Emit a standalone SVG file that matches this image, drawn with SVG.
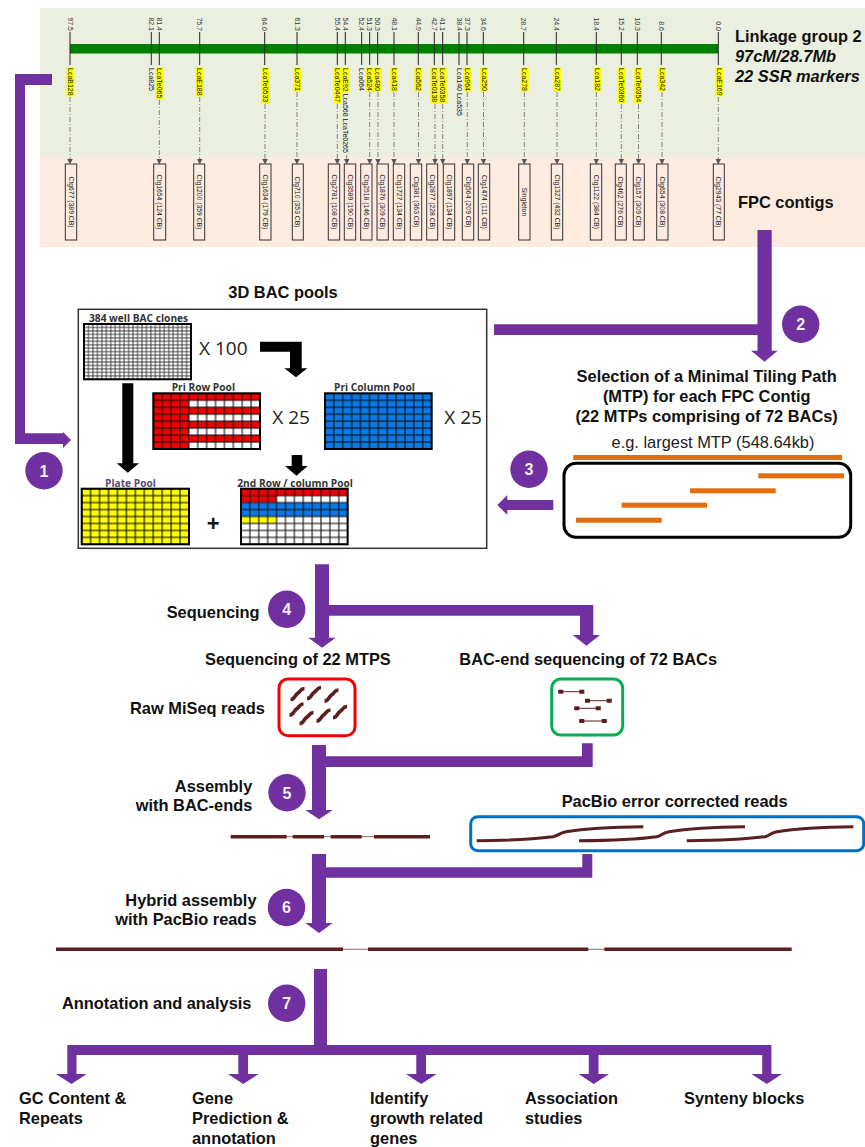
<svg xmlns="http://www.w3.org/2000/svg" width="865" height="1147" viewBox="0 0 865 1147">
<style>
text{font-family:"Liberation Sans",Arial,sans-serif;fill:#111}
.b{font-weight:700;font-size:16.4px}
.bi{font-weight:700;font-style:italic;font-size:16.4px}
.r{font-size:16.4px;fill:#222}
.e{text-anchor:end}
.m{text-anchor:middle}
.num{font-size:7px;fill:#333;text-anchor:end}
.mk{font-size:7px;fill:#111}
.ct{font-size:6.8px;fill:#222;text-anchor:middle}
.hl{fill:#ffff00}
.tick{stroke:#222;stroke-width:1}
.dash{stroke:#666;stroke-width:.8;stroke-dasharray:5 2 1 2;fill:none;marker-end:url(#tip)}
.box{fill:#fdebdf;stroke:#333;stroke-width:1}
.pu{fill:#7030a0}
.circle{fill:#7030a0}
.dg{font-weight:700;font-size:16px;fill:#f4eef8;text-anchor:middle}
.ar{fill:#000}
.frame{fill:none;stroke:#000;stroke-width:2}
.gl{font-weight:700;font-size:10.2px;fill:#333;font-family:"Open Sans","Liberation Sans",sans-serif}
.xl{font-size:19px;fill:#222;font-family:"Open Sans","Liberation Sans",sans-serif}
.or{fill:#e46c0a}
.rd{fill:none;stroke:#5c1f1f;stroke-width:3}
.rs{fill:none;stroke:#5c1f1f;stroke-width:3.6}
.rd2{fill:none;stroke:#5c1f1f;stroke-width:1}
.sq{fill:#5c1f1f}
.thin{stroke:#8a6a6a;stroke-width:1}
.red{fill:#f00000}.blu{fill:#0a78e6}.yel{fill:#ffff00}
</style>
<defs>
<marker id="tip" markerUnits="userSpaceOnUse" markerWidth="6" markerHeight="6" refX="5.5" refY="3" orient="auto"><path d="M0 0L6 3L0 6Z" fill="#555"/></marker>
<pattern id="g24" width=".0416667" height=".0625"><rect width="4.458" height="3.456" fill="none" stroke="#333" stroke-width=".9"/></pattern>
<pattern id="g12" width=".0833333" height=".125"><rect width="8.89" height="6.96" fill="none" stroke="#111" stroke-width="1.1"/></pattern>
<path id="sq" d="M-7 6C-3 6-3 2 0 0S3-5 7-5" class="rs"/>
</defs>

<g id="linkage-panel">
<rect x="40" y="8" width="825" height="149" fill="#ebefdf"/>
<rect x="40" y="157" width="825" height="90" fill="#fdebdf"/>
<rect x="70" y="44" width="648" height="9.5" fill="#008000"/>
<g id="ticks">
<path class="tick" d="M70 32V65M151.3 32V65M159.3 32V65M199.7 32V65M264.7 32V65M297 32V65M337.3 32V65M345.3 32V65M361.7 32V65M369.7 32V65M377.7 32V65M394 32V65M418.3 32V65M434.3 32V65M442.7 32V65M459 32V65M467 32V65M483.3 32V65M523.7 32V65M556.3 32V65M596.3 32V65M621.3 32V65M637.3 32V65M661.3 32V65M718.3 32V65"/>
</g>
<g id="positions">
<text class="num" transform="translate(67.5 31) rotate(90)">97.5</text>
<text class="num" transform="translate(148.8 31) rotate(90)">82.1</text>
<text class="num" transform="translate(156.8 31) rotate(90)">81.4</text>
<text class="num" transform="translate(197.2 31) rotate(90)">75.7</text>
<text class="num" transform="translate(262.2 31) rotate(90)">64.0</text>
<text class="num" transform="translate(294.5 31) rotate(90)">61.3</text>
<text class="num" transform="translate(334.8 31) rotate(90)">55.4</text>
<text class="num" transform="translate(342.8 31) rotate(90)">54.4</text>
<text class="num" transform="translate(359.2 31) rotate(90)">52.4</text>
<text class="num" transform="translate(367.2 31) rotate(90)">51.3</text>
<text class="num" transform="translate(375.2 31) rotate(90)">50.3</text>
<text class="num" transform="translate(391.5 31) rotate(90)">48.1</text>
<text class="num" transform="translate(415.8 31) rotate(90)">44.9</text>
<text class="num" transform="translate(431.8 31) rotate(90)">42.7</text>
<text class="num" transform="translate(440.2 31) rotate(90)">41.1</text>
<text class="num" transform="translate(456.5 31) rotate(90)">38.4</text>
<text class="num" transform="translate(464.5 31) rotate(90)">37.3</text>
<text class="num" transform="translate(480.8 31) rotate(90)">34.6</text>
<text class="num" transform="translate(521.2 31) rotate(90)">28.7</text>
<text class="num" transform="translate(553.8 31) rotate(90)">24.4</text>
<text class="num" transform="translate(593.8 31) rotate(90)">18.4</text>
<text class="num" transform="translate(618.8 31) rotate(90)">15.2</text>
<text class="num" transform="translate(634.8 31) rotate(90)">10.3</text>
<text class="num" transform="translate(658.8 31) rotate(90)">8.6</text>
<text class="num" transform="translate(715.8 31) rotate(90)">0.0</text>
</g>
<g id="marker-highlights">
<rect class="hl" x="66.5" y="67.5" width="8" height="29"/>
<rect class="hl" x="155.3" y="67.5" width="8" height="32"/>
<rect class="hl" x="195.7" y="67.5" width="8" height="29"/>
<rect class="hl" x="261" y="67.5" width="8" height="36"/>
<rect class="hl" x="293.3" y="67.5" width="8" height="24"/>
<rect class="hl" x="333.3" y="67.5" width="8" height="36"/>
<rect class="hl" x="341.3" y="67.5" width="8" height="25"/>
<rect class="hl" x="365.7" y="67.5" width="8" height="24"/>
<rect class="hl" x="373.7" y="67.5" width="8" height="24"/>
<rect class="hl" x="390" y="67.5" width="8" height="24"/>
<rect class="hl" x="414.3" y="67.5" width="8" height="24"/>
<rect class="hl" x="430.3" y="67.5" width="8" height="36"/>
<rect class="hl" x="438.7" y="67.5" width="8" height="36"/>
<rect class="hl" x="463" y="67.5" width="8" height="24"/>
<rect class="hl" x="480" y="67.5" width="8" height="24"/>
<rect class="hl" x="520.7" y="67.5" width="8" height="24"/>
<rect class="hl" x="553" y="67.5" width="8" height="24"/>
<rect class="hl" x="593.3" y="67.5" width="8" height="24"/>
<rect class="hl" x="617.7" y="67.5" width="8" height="36"/>
<rect class="hl" x="634" y="67.5" width="8" height="36"/>
<rect class="hl" x="658" y="67.5" width="8" height="24"/>
<rect class="hl" x="715" y="67.5" width="8" height="29"/>
</g>
<g id="marker-labels">
<text class="mk" transform="translate(68 68) rotate(90)">LcaB128</text>
<text class="mk" transform="translate(148.8 68) rotate(90)">Lca825</text>
<text class="mk" transform="translate(156.8 68) rotate(90)">LcaTe065</text>
<text class="mk" transform="translate(197.2 68) rotate(90)">LcaE188</text>
<text class="mk" transform="translate(262.5 68) rotate(90)">LcaTe0533</text>
<text class="mk" transform="translate(294.8 68) rotate(90)">Lca371</text>
<text class="mk" transform="translate(334.8 68) rotate(90)">LcaTe0447</text>
<text class="mk" transform="translate(342.8 68) rotate(90)">LcaE92 Lca568 LcaTe0265</text>
<text class="mk" transform="translate(359.2 68) rotate(90)">Lca064</text>
<text class="mk" transform="translate(367.2 68) rotate(90)">Lca524</text>
<text class="mk" transform="translate(375.2 68) rotate(90)">Lca480</text>
<text class="mk" transform="translate(391.5 68) rotate(90)">Lca418</text>
<text class="mk" transform="translate(415.8 68) rotate(90)">Lca562</text>
<text class="mk" transform="translate(431.8 68) rotate(90)">LcaTe0138</text>
<text class="mk" transform="translate(440.2 68) rotate(90)">LcaTe0358</text>
<text class="mk" transform="translate(456.5 68) rotate(90)">Lca140 Lca535</text>
<text class="mk" transform="translate(464.5 68) rotate(90)">Lca964</text>
<text class="mk" transform="translate(481.5 68) rotate(90)">Lca250</text>
<text class="mk" transform="translate(522.2 68) rotate(90)">Lca278</text>
<text class="mk" transform="translate(554.5 68) rotate(90)">Lca287</text>
<text class="mk" transform="translate(594.8 68) rotate(90)">Lca182</text>
<text class="mk" transform="translate(619.2 68) rotate(90)">LcaTe0360</text>
<text class="mk" transform="translate(635.5 68) rotate(90)">LcaTe0354</text>
<text class="mk" transform="translate(659.5 68) rotate(90)">Lca342</text>
<text class="mk" transform="translate(716.5 68) rotate(90)">LcaE169</text>
</g>
<text id="lg1" class="b" x="735" y="41.5">Linkage group 2</text>
<text id="lg2" class="bi" x="735" y="61.5">97cM/28.7Mb</text>
<text id="lg3" class="bi" x="735" y="81.5">22 SSR markers</text>
<text id="fpc" class="b" x="738" y="207.7">FPC contigs</text>
</g>

<g id="contigs">
<g id="c1"><rect class="box" x="65.3" y="164" width="11.4" height="76"/><text class="ct" transform="translate(68.6 202) rotate(90)">Ctg677 (389 CB)</text></g>
<g id="c2"><rect class="box" x="153.7" y="164" width="12" height="76"/><text class="ct" transform="translate(157.3 202) rotate(90)">Ctg1654 (124 CB)</text></g>
<g id="c3"><rect class="box" x="193.7" y="164" width="11" height="76"/><text class="ct" transform="translate(196.8 202) rotate(90)">Ctg1200 (359 CB)</text></g>
<g id="c4"><rect class="box" x="259.7" y="164" width="11.3" height="76"/><text class="ct" transform="translate(263 202) rotate(90)">Ctg1634 (179 CB)</text></g>
<g id="c5"><rect class="box" x="292.3" y="164" width="11" height="76"/><text class="ct" transform="translate(295.4 202) rotate(90)">Ctg710 (353 CB)</text></g>
<g id="c6"><rect class="box" x="328.3" y="164" width="11.4" height="76"/><text class="ct" transform="translate(331.6 202) rotate(90)">Ctg2781 (108 CB)</text></g>
<g id="c7"><rect class="box" x="344.3" y="164" width="11.4" height="76"/><text class="ct" transform="translate(347.6 202) rotate(90)">Ctg3589 (190 CB)</text></g>
<g id="c8"><rect class="box" x="360.7" y="164" width="11.3" height="76"/><text class="ct" transform="translate(364 202) rotate(90)">Ctg2518 (146 CB)</text></g>
<g id="c9"><rect class="box" x="377" y="164" width="11.3" height="76"/><text class="ct" transform="translate(380.3 202) rotate(90)">Ctg1876 (309 CB)</text></g>
<g id="c10"><rect class="box" x="393.3" y="164" width="11.4" height="76"/><text class="ct" transform="translate(396.6 202) rotate(90)">Ctg1727 (134 CB)</text></g>
<g id="c11"><rect class="box" x="410.3" y="164" width="11.4" height="76"/><text class="ct" transform="translate(413.6 202) rotate(90)">Ctg381 (363 CB)</text></g>
<g id="c12"><rect class="box" x="426.7" y="164" width="11" height="76"/><text class="ct" transform="translate(429.8 202) rotate(90)">Ctg2877 (228 CB)</text></g>
<g id="c13"><rect class="box" x="443.3" y="164" width="11.4" height="76"/><text class="ct" transform="translate(446.6 202) rotate(90)">Ctg1897 (134 CB)</text></g>
<g id="c14"><rect class="box" x="462.3" y="164" width="11.4" height="76"/><text class="ct" transform="translate(465.6 202) rotate(90)">Ctg564 (209 CB)</text></g>
<g id="c15"><rect class="box" x="478.3" y="164" width="11.4" height="76"/><text class="ct" transform="translate(481.6 202) rotate(90)">Ctg1474 (111 CB)</text></g>
<g id="c16"><rect class="box" x="518.7" y="164" width="11.3" height="76"/><text class="ct" transform="translate(522 202) rotate(90)">Singleton</text></g>
<g id="c17"><rect class="box" x="551.3" y="164" width="11.4" height="76"/><text class="ct" transform="translate(554.6 202) rotate(90)">Ctg1327 (432 CB)</text></g>
<g id="c18"><rect class="box" x="590.3" y="164" width="11.4" height="76"/><text class="ct" transform="translate(593.6 202) rotate(90)">Ctg1122 (384 CB)</text></g>
<g id="c19"><rect class="box" x="615.3" y="164" width="11" height="76"/><text class="ct" transform="translate(618.4 202) rotate(90)">Ctg462 (276 CB)</text></g>
<g id="c20"><rect class="box" x="633.3" y="164" width="11" height="76"/><text class="ct" transform="translate(636.4 202) rotate(90)">Ctg157 (309 CB)</text></g>
<g id="c21"><rect class="box" x="656.7" y="164" width="11.3" height="76"/><text class="ct" transform="translate(660 202) rotate(90)">Ctg654 (308 CB)</text></g>
<g id="c22"><rect class="box" x="713.3" y="164" width="11" height="76"/><text class="ct" transform="translate(716.4 202) rotate(90)">Ctg2943 (77 CB)</text></g>
</g>

<g id="bac-pools">
<text id="bac-title" class="b m" x="283" y="298">3D BAC pools</text>
<rect x="78.3" y="309.3" width="408.4" height="239" fill="#fff" stroke="#333" stroke-width="1.5"/>
<g id="plate384">
<text class="gl" x="89" y="321.7">384 well BAC clones</text>
<rect x="84" y="324" width="107" height="55.3" fill="#fff"/>
<rect x="84" y="324" width="107" height="55.3" fill="url(#g24)"/>
<rect class="frame" x="84" y="324" width="107" height="55.3"/>
</g>
<text class="xl" x="199" y="354.5">X 100</text>
<g id="row-pool">
<text class="gl" x="171.7" y="391">Pri Row  Pool</text>
<rect x="153.3" y="393.3" width="106.7" height="55.7" fill="#fff"/>
<rect class="red" x="153.3" y="393.3" width="35.6" height="55.7"/>
<rect class="red" x="153.3" y="393.3" width="106.7" height="7"/>
<rect class="red" x="153.3" y="407.2" width="106.7" height="7"/>
<rect class="red" x="153.3" y="421.1" width="106.7" height="7"/>
<rect class="red" x="153.3" y="435.1" width="106.7" height="7"/>
<rect x="153.3" y="393.3" width="106.7" height="55.7" fill="url(#g12)"/>
<rect class="frame" x="153.3" y="393.3" width="106.7" height="55.7"/>
</g>
<text class="xl" x="272.3" y="424">X 25</text>
<g id="column-pool">
<text class="gl" x="334" y="391">Pri Column  Pool</text>
<rect class="blu" x="325" y="393.3" width="106.7" height="55.7"/>
<rect x="325" y="393.3" width="106.7" height="55.7" fill="url(#g12)"/>
<rect class="frame" x="325" y="393.3" width="106.7" height="55.7"/>
</g>
<text class="xl" x="444.3" y="424">X 25</text>
<g id="plate-pool">
<text class="gl" x="105" y="486.7" style="fill:#5a4a7a">Plate Pool</text>
<rect class="yel" x="81.7" y="488.7" width="107.3" height="55.6"/>
<rect x="81.7" y="488.7" width="107.3" height="55.6" fill="url(#g12)"/>
<rect class="frame" x="81.7" y="488.7" width="107.3" height="55.6"/>
</g>
<text class="b m" x="213.3" y="531" style="font-size:22px">+</text>
<g id="second-pool">
<text class="gl" x="237.3" y="486.7">2nd Row  / column  Pool</text>
<rect x="241" y="488.7" width="106.7" height="55.6" fill="#fff"/>
<rect class="red" x="241" y="488.7" width="106.7" height="7"/>
<rect class="red" x="241" y="495.6" width="35.6" height="7"/>
<rect class="blu" x="241" y="502.6" width="106.7" height="13.9"/>
<rect class="yel" x="241" y="516.5" width="35.6" height="7"/>
<rect x="241" y="488.7" width="106.7" height="55.6" fill="url(#g12)"/>
<rect class="frame" x="241" y="488.7" width="106.7" height="55.6"/>
</g>
<path class="ar" d="M260 341.7H301.7V368.3H307.3L296 377.3L284.3 368.3H290V351.7H260Z"/>
<path class="ar" d="M122.3 383.3H133.3V463.3H139L127.8 472.7L116.7 463.3H122.3Z"/>
<path class="ar" d="M291.7 455H302.3V466H307.7L296.4 475.7L285 466H291.7Z"/>
</g>

<g id="mtp">
<text class="b m" x="706.7" y="381.7">Selection of a Minimal Tiling Path</text>
<text class="b m" x="706.7" y="401.7">(MTP) for each FPC Contig</text>
<text class="b m" x="706.7" y="421.7">(22 MTPs comprising of 72 BACs)</text>
<text class="r m" x="713" y="448">e.g. largest MTP (548.64kb)</text>
<rect class="or" x="573.3" y="455" width="268.7" height="5"/>
<rect x="564" y="463.3" width="286.7" height="74" rx="12" fill="#fff" stroke="#000" stroke-width="3"/>
<rect class="or" x="758.3" y="473.3" width="85.7" height="5"/>
<rect class="or" x="690" y="488.3" width="85.7" height="5"/>
<rect class="or" x="621.7" y="502.7" width="85.3" height="5"/>
<rect class="or" x="576" y="517.7" width="85.7" height="5"/>
</g>

<g id="sequencing">
<text class="b" x="166.7" y="617.7">Sequencing</text>
<text class="b" x="205" y="665">Sequencing of 22 MTPS</text>
<text class="b" x="459.3" y="665">BAC-end sequencing of 72 BACs</text>
<text class="b" x="130" y="714">Raw MiSeq reads</text>
<g id="miseq">
<rect x="279" y="679" width="76" height="56.7" rx="9" fill="#fff" stroke="#f00000" stroke-width="3"/>
<use href="#sq" x="297.5" y="693.5"/><use href="#sq" x="314" y="692.5"/><use href="#sq" x="331.5" y="695"/><use href="#sq" x="296.5" y="709"/><use href="#sq" x="306.5" y="717.5"/><use href="#sq" x="323.5" y="715"/><use href="#sq" x="340" y="711.5"/>
</g>
<g id="bac-ends">
<rect x="551.7" y="679" width="71" height="56" rx="9" fill="#fff" stroke="#00b050" stroke-width="3"/>
<path class="rd2" d="M558.3 691.7H584.3M585 700.7H611.7M574.3 708.3H600.7M579.3 721H606.7"/>
<path class="sq" d="M558.3 689.7h5v4h-5zM579.3 689.7h5v4h-5zM585 698.7h5v4h-5zM606.7 698.7h5v4h-5zM574.3 706.3h5v4h-5zM595.7 706.3h5v4h-5zM579.3 719h5v4h-5zM601.7 719h5v4h-5z"/>
</g>
</g>

<g id="assembly">
<text class="b e" x="252.3" y="791.7">Assembly</text>
<text class="b e" x="252.3" y="810.7">with BAC-ends</text>
<g id="assembly-line">
<path class="thin" d="M286.7 836.7H374"/>
<path class="sq" d="M230.7 835h56v3.4h-56zM292.7 835H324v3.4h-31.3zM330.7 835h31v3.4h-31zM374 835h56v3.4h-56z"/>
</g>
<text class="b" x="561.7" y="807.3">PacBio error corrected reads</text>
<g id="pacbio">
<rect x="470.7" y="816.7" width="393" height="34" rx="7" fill="#fff" stroke="#0070c0" stroke-width="3"/>
<path class="rd" d="M476.7 840.7C510 840.5 535 839 553 836.7C560 835 558 833.5 566 831.7C585 828.5 615 827 643.3 826.7"/>
<path class="rd" d="M579 840.7C610 840.5 640 839 656.7 836.7C663 835 661 833.5 669 831.7C688 828.5 718 827 745 826.7"/>
<path class="rd" d="M686.7 840.7C718 840.5 748 839 765 836.7C771 835 769 833.5 777 831.7C796 828.5 826 827 853.3 826.7"/>
</g>
<text class="b e" x="256.5" y="906">Hybrid assembly</text>
<text class="b e" x="256.5" y="925">with PacBio reads</text>
<g id="hybrid-line">
<path class="thin" d="M343 949.3H604"/>
<path class="sq" d="M56 947.6H343V951H56zM368 947.6H588.3V951H368zM604.3 947.6H791.7V951H604.3z"/>
</g>
</g>

<g id="annotation">
<text class="b" x="62" y="1009.3">Annotation and analysis</text>
<g id="out1"><text class="b" x="19" y="1104">GC Content &amp;</text><text class="b" x="19" y="1124">Repeats</text></g>
<g id="out2"><text class="b" x="192" y="1104">Gene</text><text class="b" x="192" y="1124">Prediction &amp;</text><text class="b" x="192" y="1144">annotation</text></g>
<g id="out3"><text class="b" x="370" y="1104">Identify</text><text class="b" x="370" y="1124">growth related</text><text class="b" x="370" y="1144">genes</text></g>
<g id="out4"><text class="b" x="525" y="1104">Association</text><text class="b" x="525" y="1124">studies</text></g>
<g id="out5"><text class="b" x="684" y="1104">Synteny blocks</text></g>
</g>

<g id="connectors">
<path class="pu" d="M52 74V85H25V433.3H63V432L71 440L63 448V444H15V74Z"/>
<path class="pu" d="M757.5 230H771.7V350.7H777.7L764.5 361.7L751 350.7H757.5V335H494V324.3H757.5Z"/>
<path class="pu" d="M553.3 500V510H507.3V515L497.3 505L507.3 495V500Z"/>
<path class="pu" d="M315 564.3H329V605H593.3V635H600L586.5 645.7L572.7 635H580V615.7H329V637.7H335.7L322 647.7L308.3 637.7H315Z"/>
<path class="pu" d="M312 745H326V756.3H582V743.3H592.7V767H326V810H332.7L319 819.3L305.3 810H312Z"/>
<path class="pu" d="M312 854H326V867.3H582.3V854H592.3V877.7H326V923H332.7L319 933L305.3 923H312Z"/>
<path class="pu" d="M314 969H327V1045H771.4V1074H782L766.8 1084L751.5 1074H762.2V1055H598.5V1074H609L593.7 1084L578.6 1074H588.8V1055H426V1074H436.7L421.2 1084L406 1074H416.3V1055H248V1074H258.7L243.2 1084L228 1074H238.3V1055H76.5V1074H86.7L71.5 1084L56 1074H67.3V1055V1045H314Z"/>
<line class="dash" x1="70" y1="97" x2="70" y2="164"/>
<line class="dash" x1="159.3" y1="100" x2="159.3" y2="164"/>
<line class="dash" x1="199.7" y1="97" x2="199.7" y2="164"/>
<line class="dash" x1="265" y1="104" x2="265" y2="164"/>
<line class="dash" x1="297" y1="92" x2="297" y2="164"/>
<line class="dash" x1="337.3" y1="104" x2="337.3" y2="164"/>
<line class="dash" x1="346.7" y1="155" x2="346.7" y2="164"/>
<line class="dash" x1="369.7" y1="92" x2="369.7" y2="164"/>
<line class="dash" x1="378" y1="92" x2="378" y2="164"/>
<line class="dash" x1="394" y1="92" x2="394" y2="164"/>
<line class="dash" x1="418.5" y1="92" x2="418.5" y2="164"/>
<line class="dash" x1="435" y1="104" x2="435" y2="164"/>
<line class="dash" x1="442.7" y1="104" x2="442.7" y2="164"/>
<line class="dash" x1="467.3" y1="92" x2="467.3" y2="164"/>
<line class="dash" x1="483.5" y1="92" x2="483.5" y2="164"/>
<line class="dash" x1="524.3" y1="92" x2="524.3" y2="164"/>
<line class="dash" x1="557" y1="92" x2="557" y2="164"/>
<line class="dash" x1="596.3" y1="92" x2="596.3" y2="164"/>
<line class="dash" x1="621.3" y1="104" x2="621.3" y2="164"/>
<line class="dash" x1="638.5" y1="104" x2="638.5" y2="164"/>
<line class="dash" x1="662" y1="92" x2="662" y2="164"/>
<line class="dash" x1="718.3" y1="97" x2="718.3" y2="164"/>
</g>

<g id="step1"><circle class="circle" cx="44" cy="470.7" r="18.7"/><text class="dg" x="44" y="476.5">1</text></g>
<g id="step2"><circle class="circle" cx="800.7" cy="324.3" r="18.7"/><text class="dg" x="800.7" y="330">2</text></g>
<g id="step3"><circle class="circle" cx="529" cy="469.3" r="18.7"/><text class="dg" x="529" y="475">3</text></g>
<g id="step4"><circle class="circle" cx="286.7" cy="609.3" r="18.7"/><text class="dg" x="286.7" y="615">4</text></g>
<g id="step5"><circle class="circle" cx="287" cy="792.7" r="18.7"/><text class="dg" x="287" y="798.5">5</text></g>
<g id="step6"><circle class="circle" cx="286.5" cy="907.5" r="18.7"/><text class="dg" x="286.5" y="913.3">6</text></g>
<g id="step7"><circle class="circle" cx="286.7" cy="1003.3" r="18.7"/><text class="dg" x="286.7" y="1009">7</text></g>
</svg>
